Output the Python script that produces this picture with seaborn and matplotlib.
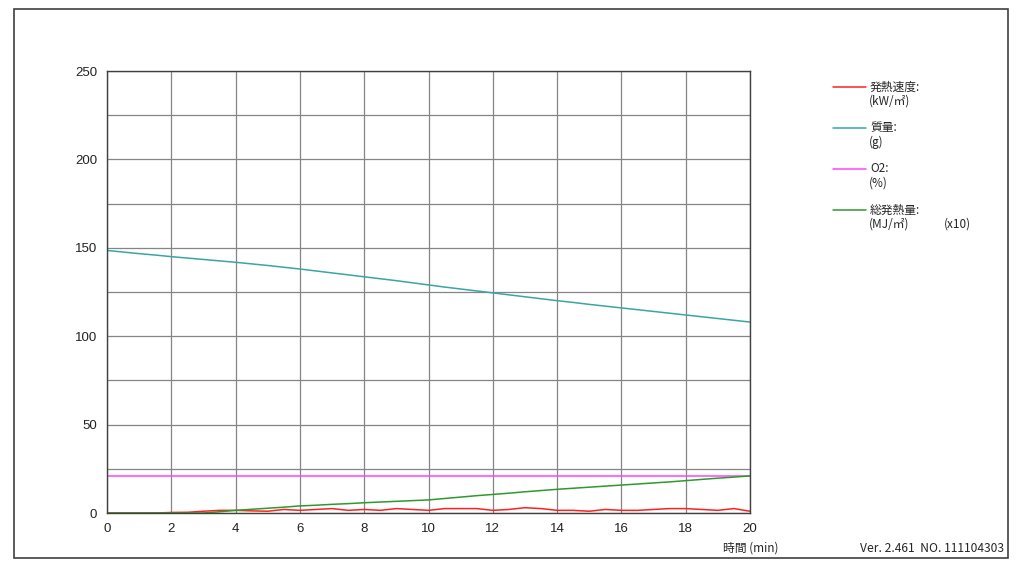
import numpy as np
import pandas as pd
import matplotlib.pyplot as plt
import seaborn as sns
from matplotlib.patches import Rectangle
from matplotlib.lines import Line2D

# Datos (cada 0.5 min)
tiempo = [0.0, 0.5, 1.0, 1.5, 2.0, 2.5, 3.0, 3.5, 4.0, 4.5,
          5.0, 5.5, 6.0, 6.5, 7.0, 7.5, 8.0, 8.5, 9.0, 9.5,
          10.0, 10.5, 11.0, 11.5, 12.0, 12.5, 13.0, 13.5, 14.0, 14.5,
          15.0, 15.5, 16.0, 16.5, 17.0, 17.5, 18.0, 18.5, 19.0, 19.5, 20.0]

hrr = [0.0, 0.0, 0.0, 0.0, 0.3, 0.4, 1.0, 1.5, 1.5, 1.2,
       1.0, 2.0, 1.5, 2.0, 2.5, 1.5, 2.0, 1.5, 2.5, 2.0,
       1.5, 2.5, 2.5, 2.5, 1.5, 2.0, 3.0, 2.5, 1.5, 1.5,
       1.0, 2.0, 1.5, 1.5, 2.0, 2.5, 2.5, 2.0, 1.5, 2.5, 1.0]

masa = [148.5, 147.6, 146.7, 145.9, 145.0, 144.2, 143.4, 142.6, 141.8, 140.9,
        140.0, 139.0, 138.0, 136.9, 135.8, 134.7, 133.6, 132.5, 131.4, 130.2,
        129.0, 127.8, 126.7, 125.6, 124.5, 123.4, 122.3, 121.2, 120.1, 119.1,
        118.0, 117.0, 116.0, 115.0, 114.0, 113.0, 112.0, 111.0, 110.0, 109.0, 108.0]

o2 = [21.0] * len(tiempo)

total = [0.0, 0.0, 0.0, 0.0, 0.0, 0.0, 0.0, 0.7, 1.5, 2.1,
         2.7, 3.3, 4.0, 4.4, 4.9, 5.3, 5.8, 6.2, 6.6, 7.0,
         7.4, 8.2, 9.0, 9.8, 10.5, 11.2, 12.0, 12.7, 13.4, 14.0,
         14.6, 15.2, 15.8, 16.4, 17.0, 17.6, 18.3, 19.0, 19.7, 20.3, 21.0]

series = ['hrr', 'masa', 'o2', 'total']
colores = ['#ff2020', '#3aa5a5', '#ff44ff', '#2e9a2e']
etiquetas = [('発熱速度:', '(kW/㎡)', ''),
             ('質量:', '(g)', ''),
             ('O2:', '(%)', ''),
             ('総発熱量:', '(MJ/㎡)', '(x10)')]

df = pd.DataFrame({'tiempo': tiempo, 'hrr': hrr, 'masa': masa, 'o2': o2, 'total': total})

sns.set_style("white")
plt.rcParams['font.family'] = ['Noto Sans CJK JP', 'DejaVu Sans']

fig = plt.figure(figsize=(10.24, 5.69), dpi=100)
ax = fig.add_axes([107 / 1024, 1 - 513 / 569, 643 / 1024, 442 / 569])

for s, c in zip(series, colores):
    sns.lineplot(data=df, x='tiempo', y=s, color=c, linewidth=1.1, ax=ax, legend=False)

ax.set_xlim(0, 20)
ax.set_ylim(0, 250)
ax.set_xticks(range(0, 21, 2))
ax.set_yticks(range(0, 251, 50))
ax.set_yticks(range(0, 251, 25), minor=True)
ax.grid(True, which='both', color='#858585', linewidth=0.9)
ax.set_axisbelow(True)
ax.tick_params(which='both', length=0, labelsize=9.5, pad=7)
for lab in ax.get_xticklabels() + ax.get_yticklabels():
    lab.set_family(['Liberation Sans', 'DejaVu Sans'])
    lab.set_color('#222222')
for sp in ax.spines.values():
    sp.set_color('#404040')
    sp.set_linewidth(1.0)
ax.set_xlabel('')
ax.set_ylabel('')

# Leyenda a la derecha
y0 = 87
for i, ((t1, t2, t3), c) in enumerate(zip(etiquetas, colores)):
    yy = y0 + i * 41
    fig.add_artist(Line2D([833 / 1024, 866 / 1024], [1 - yy / 569] * 2, color=c, linewidth=1.1))
    fig.text(870 / 1024, 1 - yy / 569, t1, fontsize=8.5, va='center', ha='left')
    fig.text(869 / 1024, 1 - (yy + 14) / 569, t2, fontsize=8.5, va='center', ha='left')
    if t3:
        fig.text(944 / 1024, 1 - (yy + 14) / 569, t3, fontsize=8.5, va='center', ha='left')

fig.text(723 / 1024, 1 - 548 / 569, '時間 (min)', fontsize=8.5, va='center', ha='left')
fig.text(1004 / 1024, 1 - 549 / 569, 'Ver. 2.461  NO. 111104303', fontsize=8.7,
         va='center', ha='right')

# Marco exterior
fig.add_artist(Rectangle((14 / 1024, 1 - 558 / 569), 994 / 1024, 549 / 569,
                         transform=fig.transFigure, fill=False, edgecolor='#404040', linewidth=1.2))

plt.savefig('out.png', dpi=100)
